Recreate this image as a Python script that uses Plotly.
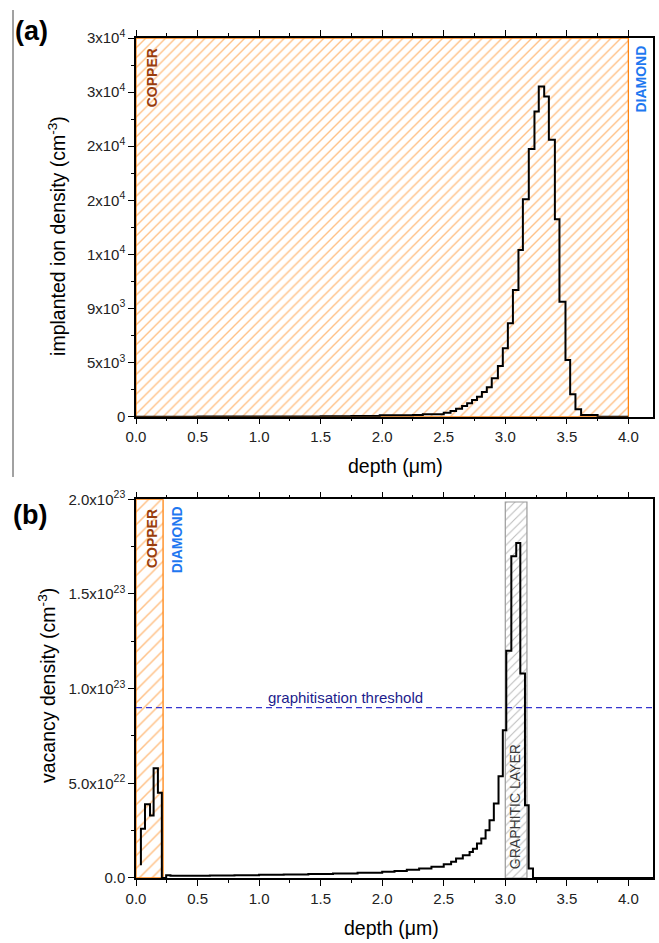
import plotly.graph_objects as go

# ---------------- data ----------------
# (a) implanted ion density, step histogram (left bin edges, level)
top_depth = [0.00, 0.50, 1.00, 1.25, 1.50, 1.75, 1.98, 2.25, 2.33, 2.50, 2.555, 2.60,
             2.649, 2.69, 2.73, 2.77, 2.81, 2.85, 2.89, 2.94, 2.98, 3.021, 3.062, 3.107,
             3.143, 3.191, 3.237, 3.272, 3.316, 3.354, 3.403, 3.44, 3.489, 3.527, 3.57,
             3.616, 3.75, 4.00]
top_density = [0, 5, 10, 15, 25, 50, 110, 140, 200, 333, 472, 666,
               888, 1110, 1388, 1665, 2050, 2450, 3190, 4220, 5690, 7770, 10545, 13875,
               18090, 22260, 25390, 27470, 26640, 23030, 16430, 9570, 4720, 1860, 610,
               140, 0, 0]

# (b) vacancy density, step histogram
bot_depth = [0.04, 0.04, 0.073, 0.114, 0.143, 0.178, 0.21, 0.245, 0.28, 0.40, 0.60, 0.80,
             1.00, 1.20, 1.40, 1.60, 1.80, 2.00, 2.10, 2.20, 2.30, 2.40, 2.50, 2.56, 2.60,
             2.655, 2.71, 2.737, 2.77, 2.805, 2.84, 2.872, 2.907, 2.945, 2.98, 3.008,
             3.049, 3.089, 3.122, 3.16, 3.19, 3.225, 4.20]
bot_vacancy = [0.67e22, 2.6e22, 3.9e22, 3.3e22, 5.8e22, 4.5e22, 0.0, 0.15e22, 0.12e22,
               0.12e22, 0.13e22, 0.15e22, 0.17e22, 0.19e22, 0.21e22, 0.24e22, 0.28e22,
               0.33e22, 0.37e22, 0.43e22, 0.50e22, 0.60e22, 0.72e22, 0.86e22, 1.03e22,
               1.20e22, 1.37e22, 1.55e22, 1.82e22, 2.08e22, 2.52e22, 3.05e22, 3.93e22,
               5.37e22, 7.8e22, 12.0e22, 17.0e22, 17.7e22, 10.8e22, 3.84e22, 0.5e22, 0.0, 0.0]

# regions / reference levels
copper_a_end = 4.0
copper_b_end = 0.22
graphitic_start = 3.0
graphitic_end = 3.176
threshold = 9e22

# axis ticks
x_ticks = [0.0, 0.5, 1.0, 1.5, 2.0, 2.5, 3.0, 3.5, 4.0]
top_yvals = [0, 4500, 9000, 13500, 18000, 22500, 27000, 31500]
top_ylabels = ["0", "5x10<sup>3</sup>", "9x10<sup>3</sup>", "1x10<sup>4</sup>",
               "2x10<sup>4</sup>", "2x10<sup>4</sup>", "3x10<sup>4</sup>", "3x10<sup>4</sup>"]
top_yminor = [2250, 6750, 11250, 15750, 20250, 24750, 29250]
bot_yvals = [0, 5e22, 1e23, 1.5e23, 2e23]
bot_ylabels = ["0.0", "5.0x10<sup>22</sup>", "1.0x10<sup>23</sup>",
               "1.5x10<sup>23</sup>", "2.0x10<sup>23</sup>"]
bot_yminor = [2.5e22, 7.5e22, 1.25e23, 1.75e23]

# ---------------- style ----------------
FONT = "Liberation Sans, Arial, sans-serif"
ORANGE = "#ff8410"
BROWN = "#993d0c"
BLUE = "#1f78f0"
GREY = "#7a7a7a"
TOP_YMAX = 31500
BOT_YMAX = 2e23
XMAX = 4.2

fig = go.Figure()

# ---- panel (a)
fig.add_trace(go.Scatter(
    x=[0, 0, copper_a_end, copper_a_end, 0], y=[0, TOP_YMAX, TOP_YMAX, 0, 0],
    mode="lines", fill="toself", fillcolor="rgba(0,0,0,0)",
    fillpattern=dict(shape="/", fgcolor=ORANGE, bgcolor="rgba(0,0,0,0)", size=7, solidity=0.2),
    line=dict(color=ORANGE, width=1.3), xaxis="x", yaxis="y", hoverinfo="skip"))
fig.add_trace(go.Scatter(
    x=top_depth, y=top_density, mode="lines", line=dict(color="black", width=2, shape="hv"),
    xaxis="x", yaxis="y"))

# ---- panel (b)
fig.add_trace(go.Scatter(
    x=[0, 0, copper_b_end, copper_b_end, 0], y=[0, BOT_YMAX, BOT_YMAX, 0, 0],
    mode="lines", fill="toself", fillcolor="rgba(0,0,0,0)",
    fillpattern=dict(shape="/", fgcolor=ORANGE, bgcolor="rgba(0,0,0,0)", size=9, solidity=0.17),
    line=dict(color=ORANGE, width=1.3), xaxis="x2", yaxis="y2", hoverinfo="skip"))
fig.add_trace(go.Scatter(
    x=[graphitic_start, graphitic_start, graphitic_end, graphitic_end, graphitic_start],
    y=[0, BOT_YMAX * 0.993, BOT_YMAX * 0.993, 0, 0],
    mode="lines", fill="toself", fillcolor="rgba(0,0,0,0)",
    fillpattern=dict(shape="/", fgcolor=GREY, bgcolor="rgba(0,0,0,0)", size=6, solidity=0.18),
    line=dict(color="#9a9a9a", width=1.2), xaxis="x2", yaxis="y2", hoverinfo="skip"))
fig.add_trace(go.Scatter(
    x=[0, XMAX], y=[threshold, threshold], mode="lines",
    line=dict(color="#3535d0", width=1.3, dash="6px,4px"), xaxis="x2", yaxis="y2"))
fig.add_trace(go.Scatter(
    x=bot_depth, y=bot_vacancy, mode="lines", line=dict(color="black", width=2, shape="hv"),
    xaxis="x2", yaxis="y2"))

axis_common = dict(
    showline=True, linecolor="black", linewidth=1.5, ticks="outside", ticklen=6,
    tickwidth=1.3, tickcolor="black", showgrid=False, zeroline=False, automargin=False,
    tickfont=dict(family=FONT, size=15, color="#222"),
)
xcommon = dict(axis_common, range=[0, XMAX], tickvals=x_ticks,
               ticktext=[f"{v:.1f}" for v in x_ticks], mirror="ticks",
               minor=dict(ticks="outside", ticklen=3, tickwidth=1.2, tickcolor="black", dtick=0.25, tick0=0))

fig.update_layout(
    width=659, height=943,
    margin=dict(l=136, r=6, t=38, b=65),
    plot_bgcolor="white", paper_bgcolor="white",
    showlegend=False,
    font=dict(family=FONT, color="black"),
    xaxis=dict(xcommon, anchor="y", domain=[0, 1]),
    yaxis=dict(axis_common, domain=[0.5492, 1], range=[0, TOP_YMAX], mirror=True,
               tickmode="array", tickvals=top_yvals, ticktext=top_ylabels,
               minor=dict(ticks="outside", ticklen=3, tickwidth=1.2, tickcolor="black",
                          tickmode="array", tickvals=top_yminor)),
    xaxis2=dict(xcommon, anchor="y2", domain=[0, 1]),
    yaxis2=dict(axis_common, domain=[0, 0.4508], range=[0, BOT_YMAX], mirror=True,
                tickmode="array", tickvals=bot_yvals, ticktext=bot_ylabels,
                minor=dict(ticks="outside", ticklen=3, tickwidth=1.2, tickcolor="black",
                           tickmode="array", tickvals=bot_yminor)),
)

ann = []
def add(text, x, y, xref, yref, size, color="black", angle=0, xa="center", ya="middle", bold=False):
    if bold:
        text = f"<b>{text}</b>"
    ann.append(dict(text=text, x=x, y=y, xref=xref, yref=yref, showarrow=False,
                    textangle=angle, xanchor=xa, yanchor=ya,
                    font=dict(family=FONT, size=size, color=color)))

# panel labels
add("(a)", -0.238, 1.029, "paper", "paper", 27, bold=True, xa="left", ya="top")
add("(b)", -0.242, 0.4525, "paper", "paper", 27, bold=True, xa="left", ya="top")
# axis titles
add("implanted ion density (cm<sup>-3</sup>)", -0.153, 0.7643, "paper", "paper", 19.5, angle=-90)
add("vacancy density (cm<sup>-3</sup>)", -0.172, 0.2286, "paper", "paper", 19.5, angle=-90)
add("depth (μm)", 0.501, 0.4905, "paper", "paper", 19.5)
add("depth (μm)", 0.495, -0.0590, "paper", "paper", 19.5)
# region labels (a)
add("COPPER", 0.13, 28150, "x", "y", 14, color=BROWN, angle=-90, bold=True)
add("DIAMOND", 4.10, 28100, "x", "y", 14, color=BLUE, angle=-90, bold=True)
# region labels (b)
add("COPPER", 0.13, 1.79e23, "x2", "y2", 14, color=BROWN, angle=-90, bold=True)
add("DIAMOND", 0.335, 1.785e23, "x2", "y2", 14, color=BLUE, angle=-90, bold=True)
add("GRAPHITIC LAYER", 3.08, 0.375e23, "x2", "y2", 14, color="#3a3a3a", angle=-90)
add("graphitisation threshold", 1.70, threshold, "x2", "y2", 15, color="#1c1c8c", ya="bottom")

fig.update_layout(annotations=ann)

# thin vertical rule at the far left of the page
fig.add_shape(type="line", xref="paper", yref="paper",
              x0=-0.2379, x1=-0.2379, y0=1.0333, y1=0.4774,
              line=dict(color="#444", width=1))

fig.write_html("out.html", config={"displayModeBar": False},
               post_script="document.body.style.margin='0px';")
